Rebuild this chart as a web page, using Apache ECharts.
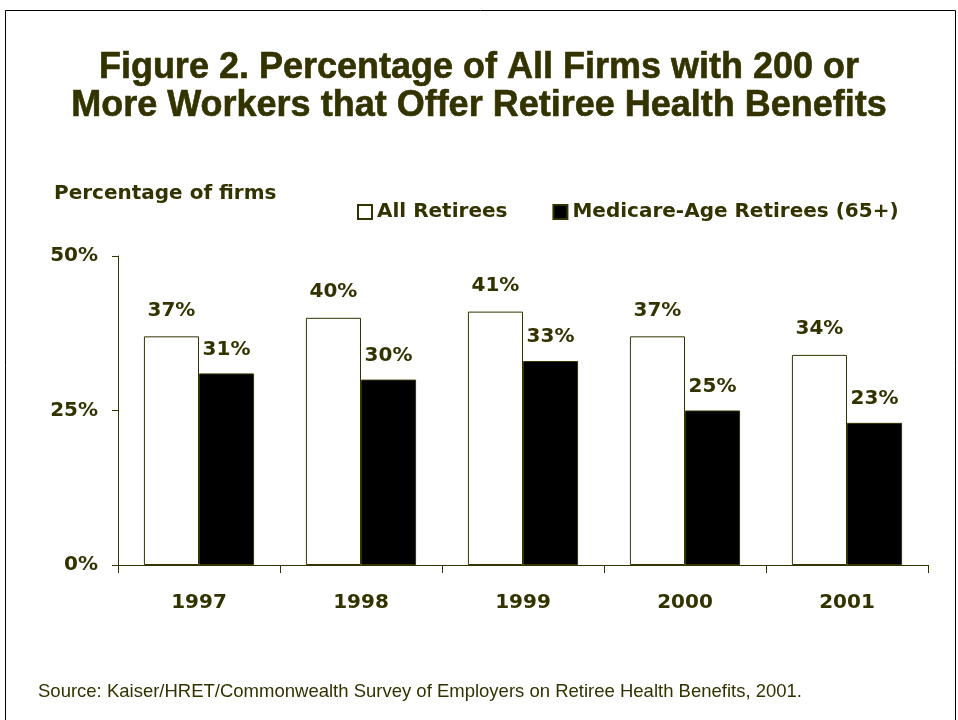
<!DOCTYPE html>
<html>
<head>
<meta charset="utf-8">
<script src="https://cdn.jsdelivr.net/npm/echarts@6/dist/echarts.min.js"></script>
<style>
  html, body { margin: 0; padding: 0; background: #fff; }
  #chart { width: 958px; height: 720px; }
</style>
</head>
<body>
<div id="chart"></div>
<script>
  const years = ['1997', '1998', '1999', '2000', '2001']
  const allRetirees = [37, 40, 41, 37, 34]
  const medicareRetirees = [31, 30, 33, 25, 23]
  const yTicks = [0, 25, 50]

  const olive = '#333300'
  const font = '"Liberation Sans", Arial, sans-serif'
  const wide = '"DejaVu Sans", Verdana, sans-serif'

  const dom = echarts.init(document.getElementById('chart'))
  const option = {
    backgroundColor: '#fff',
    textStyle: { fontFamily: wide, color: olive },
    title: {
      text: 'Figure 2. Percentage of All Firms with 200 or\nMore Workers that Offer Retiree Health Benefits',
      left: 'center',
      top: 44,
      textStyle: {
        fontFamily: font,
        fontSize: 36,
        fontWeight: 'bold',
        color: olive,
        lineHeight: 38,
        textBorderColor: olive,
        textBorderWidth: 0.6
      }
    },
    legend: {
      top: 197,
      left: 352,
      itemGap: 45,
      itemWidth: 14,
      itemHeight: 14,
      icon: 'rect',
      textStyle: { fontFamily: wide, fontSize: 20, fontWeight: 'bold', color: olive },
      data: ['All Retirees', 'Medicare-Age Retirees (65+)']
    },
    grid: { left: 118, right: 30, top: 256, bottom: 155, containLabel: false },
    xAxis: {
      type: 'category',
      data: years,
      axisLine: { lineStyle: { color: olive, width: 1 } },
      axisTick: { show: true, length: 8, lineStyle: { color: olive } },
      axisLabel: { margin: 28, fontSize: 20, fontWeight: 'bold', color: olive, fontFamily: wide }
    },
    yAxis: {
      type: 'value',
      min: 0,
      max: 50,
      interval: 25,
      name: 'Percentage of firms',
      nameLocation: 'end',
      nameGap: 0,
      nameTextStyle: {
        fontFamily: wide, fontSize: 20, fontWeight: 'bold', color: olive,
        align: 'left', padding: [0, 0, 52, -64]
      },
      splitLine: { show: false },
      axisLine: { show: true, lineStyle: { color: olive, width: 1 } },
      axisTick: { show: true, length: 6, lineStyle: { color: olive } },
      axisLabel: {
        margin: 20, fontSize: 20, fontWeight: 'bold', color: olive, fontFamily: wide,
        formatter: v => yTicks.includes(v) ? v + '%' : ''
      }
    },
    series: [{
      name: 'All Retirees',
      type: 'bar',
      data: allRetirees,
      barGap: '0%',
      barCategoryGap: '32%',
      itemStyle: { color: '#fff', borderColor: olive, borderWidth: 1 },
      label: {
        show: true, position: 'top', distance: 16, formatter: '{c}%',
        fontSize: 20, fontWeight: 'bold', color: olive, fontFamily: wide
      }
    }, {
      name: 'Medicare-Age Retirees (65+)',
      type: 'bar',
      data: medicareRetirees,
      itemStyle: { color: '#000', borderColor: olive, borderWidth: 1 },
      label: {
        show: true, position: 'top', distance: 14, formatter: '{c}%',
        fontSize: 20, fontWeight: 'bold', color: olive, fontFamily: wide
      }
    }],
    graphic: [{
      type: 'rect',
      shape: { x: 5.5, y: 10.5, width: 950, height: 720 },
      style: { fill: 'none', stroke: '#000', lineWidth: 1 },
      silent: true
    }, {
      type: 'text',
      left: 38,
      top: 682,
      style: {
        text: 'Source: Kaiser/HRET/Commonwealth Survey of Employers on Retiree Health Benefits, 2001.',
        fontFamily: font, fontSize: 18.5, fill: olive
      }
    }]
  }
  dom.setOption(option)
</script>
</body>
</html>
